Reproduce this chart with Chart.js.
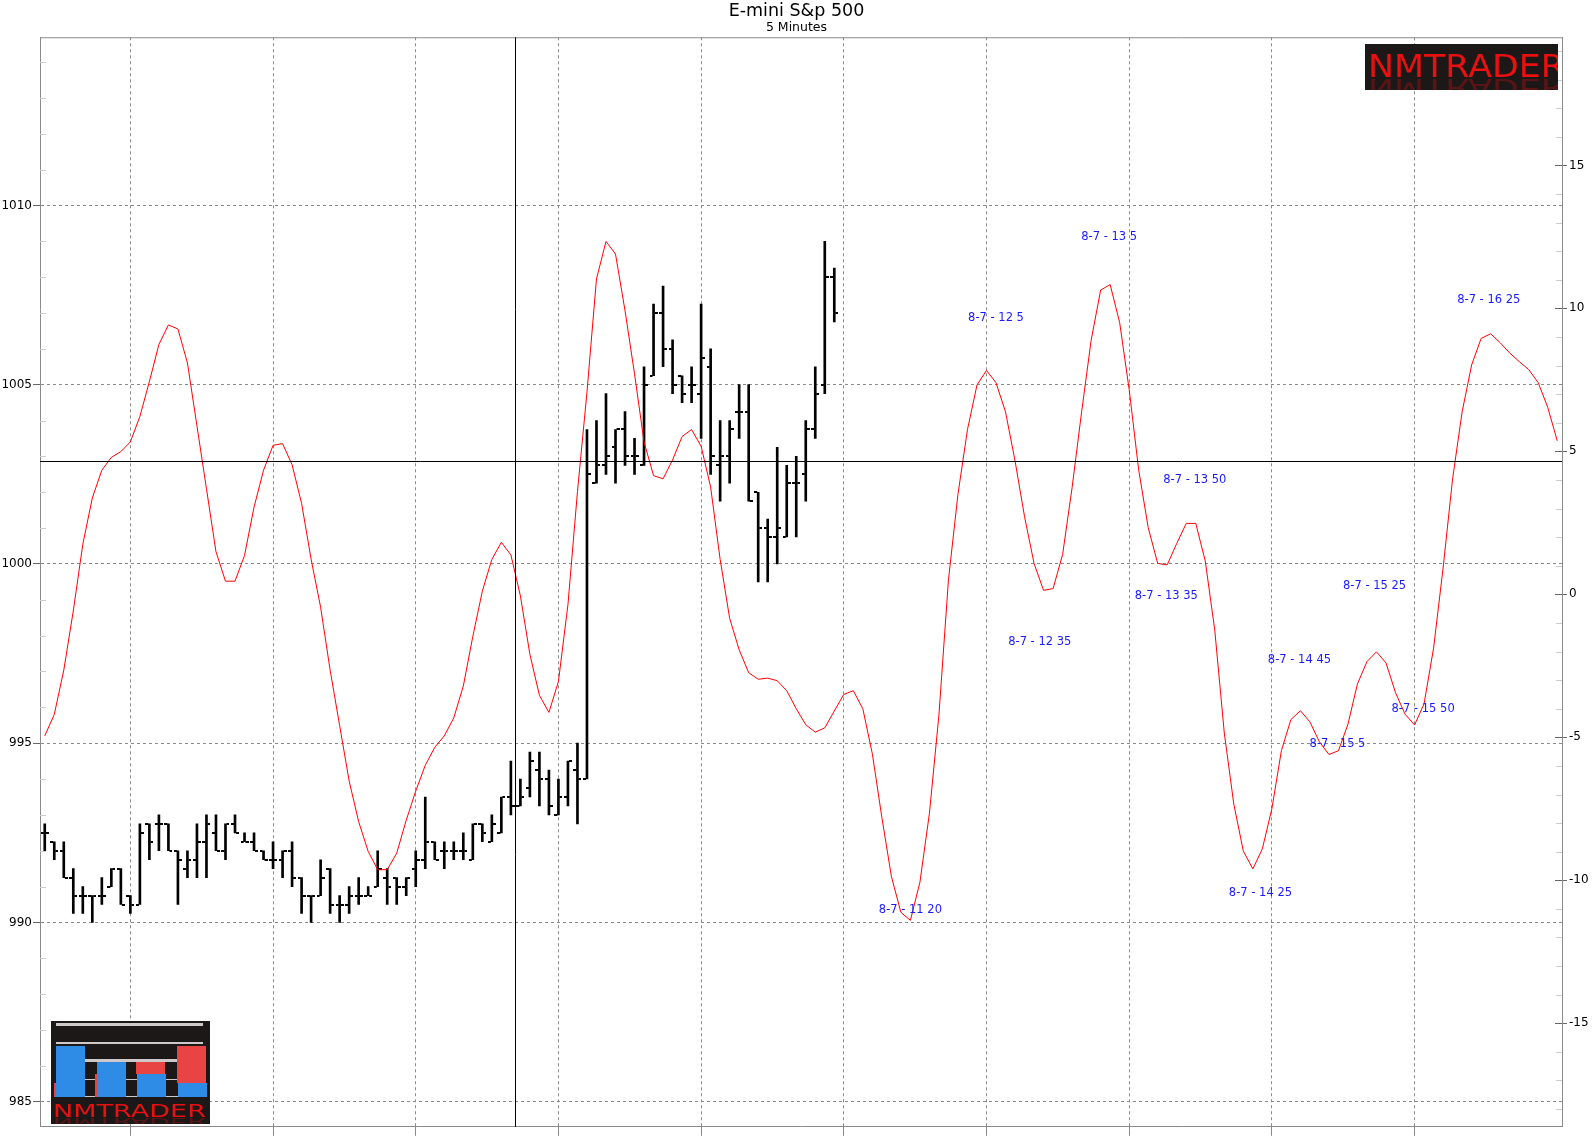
<!DOCTYPE html>
<html><head><meta charset="utf-8">
<script src="https://cdn.jsdelivr.net/npm/chart.js@4.4.1/dist/chart.umd.min.js"></script>
<style>html,body{margin:0;padding:0;background:#fff;}#wrap{width:1593px;height:1136px;position:relative;}</style>
</head><body><div id="wrap"><canvas id="c"></canvas></div>
<script>
// ---- data ----
const barOpen  = [992.5,992.25,992,991.25,990.75,990.75,990.75,991,991.5,990.75,990.5,992.75,992.75,992.75,992,991.5,991.75,992.25,992.5,992,992.75,992.25,992.25,992,991.75,991.75,992,991.25,990.75,990.75,991.5,990.5,990.5,990.75,990.75,991,991.25,991.25,991,991.5,991.75,992.25,992,992,992,991.75,992.75,992.25,992.5,993.5,993.25,993.75,994.25,994,993,993.5,994.25,994,1002.25,1002.75,1003.25,1003.75,1003,1002.75,1005.25,1007,1006,1005.25,1005,1004.75,1005.5,1002.75,1003,1004.25,1004.25,1002,1001,1000.75,1000.75,1002.25,1002.5,1003.75,1005,1008];
const barHigh  = [992.75,992.25,992.25,991.5,991,990.75,991.25,991.5,991.5,990.75,992.75,992.75,993,992.75,992,992,992.75,993,993,992.75,993,992.5,992.5,992,992.25,992,992.25,991.25,990.75,991.75,991.5,990.75,991,991.25,991,992,991.5,991.25,991.25,992,993.5,992.25,992.25,992.25,992.5,992.75,992.75,993,993.5,994.5,994,994.75,994.75,994.25,994,994.5,995,1003.75,1004,1004.75,1003.75,1004.25,1003.5,1005.5,1007.25,1007.75,1006.25,1005.25,1005.5,1007.25,1006,1004,1004,1005,1005,1002,1001.25,1003.25,1002.75,1003,1004,1005.5,1009,1008.25];
const barLow   = [992,991.75,991.25,990.25,990.25,990,990.5,991,990.5,990.25,990.5,991.75,992,992,990.5,991.25,991.25,991.25,992,991.75,992.5,992.25,992,991.75,991.5,991.25,991,990.25,990,990.75,990.25,990,990.25,990.5,990.75,991,990.5,990.5,990.75,991,991.5,991.75,991.5,991.75,991.75,991.75,992.25,992.25,992.5,993,993.25,993.5,993.25,993,993,993.25,992.75,994,1002.25,1002.5,1002.25,1002.75,1002.5,1002.75,1005.25,1005.5,1004.75,1004.5,1004.5,1003.5,1002.5,1001.75,1002.25,1003.5,1001.75,999.5,999.5,1000,1000.75,1000.75,1001.75,1003.5,1004.75,1006.75];
const barClose = [992.5,992,991.25,990.75,990.75,990.75,990.75,991.5,990.5,990.5,992.5,992.25,992.75,992,991.75,991.75,992.25,992.75,992,992.75,992.5,992.25,992,991.75,991.75,992,991.25,990.75,990.75,991.25,990.5,990.5,990.75,990.75,990.75,991.5,991,991,991.25,991.75,992.25,991.75,992,992,992,992.75,992.5,992.75,993.5,993.25,993.5,994.5,994,993.25,993.5,994.5,994,1002.5,1002.75,1003,1003.75,1003,1003,1005,1007,1006,1005,1004.75,1005,1005.75,1003,1003,1003.75,1004.25,1001.75,1001,1000.75,1001,1002.25,1002.25,1003.75,1004.75,1008,1007];
const oscillator = [-4.95,-4.2,-2.65,-0.58,1.75,3.37,4.34,4.79,4.99,5.33,6.22,7.44,8.74,9.42,9.28,8.09,5.89,3.69,1.49,0.46,0.46,1.36,3.05,4.34,5.21,5.27,4.53,3.18,1.23,-0.45,-2.65,-4.59,-6.53,-7.95,-8.99,-9.63,-9.63,-9.05,-7.9,-6.88,-5.98,-5.35,-4.95,-4.32,-3.21,-1.47,0.11,1.22,1.82,1.38,-0.05,-2.1,-3.53,-4.13,-3.05,-0.36,3.59,7.07,11.03,12.34,11.9,9.92,7.71,5.33,4.15,4.04,4.7,5.52,5.76,5.18,3.75,1.22,-0.84,-1.94,-2.74,-2.97,-2.93,-3.02,-3.37,-4,-4.56,-4.82,-4.67,-4.08,-3.5,-3.37,-4,-5.58,-7.8,-9.86,-11.12,-11.4,-10.07,-7.66,-4.22,0.5,3.5,5.76,7.32,7.83,7.4,6.38,4.67,2.72,1.08,0.14,0.2,1.39,3.73,6.38,8.88,10.64,10.83,9.5,7.16,4.35,2.33,1.08,1.03,1.78,2.48,2.48,1.16,-1.26,-4.85,-7.34,-8.98,-9.6,-8.9,-7.5,-5.47,-4.38,-4.07,-4.46,-5.16,-5.6,-5.47,-4.54,-3.13,-2.35,-2.01,-2.4,-3.44,-4.19,-4.57,-3.83,-1.88,0.92,4.04,6.38,8.02,8.95,9.11,8.8,8.44,8.14,7.86,7.4,6.54,5.37];
const priceTicks = [985,990,995,1000,1005,1010];
const oscTicks = [-15,-10,-5,0,5,10,15];
const timeGridIdx = [9,24,39,54,69,84,99,114,129,144];
const forecastText = ['8-7 - 11 20','8-7 - 12 5','8-7 - 12 35','8-7 - 13 5','8-7 - 13 35','8-7 - 13 50','8-7 - 14 25','8-7 - 14 45','8-7 - 15 5','8-7 - 15 25','8-7 - 15 50','8-7 - 16 25'];
const forecastIdx  = [91.0,100.0,104.6,111.9,117.9,120.9,127.8,131.9,135.9,139.8,144.9,151.8];
const forecastVal  = [-11.04,9.66,-1.65,12.49,-0.05,3.99,-10.43,-2.29,-5.25,0.30,-4.0,10.28];
const crossIdx = 49.4, crossPrice = 1002.87;
const titleText = 'E-mini S&p 500', subtitleText = '5 Minutes', logoText = 'NMTRADER';

// ---- helpers ----
function tickImg(left){const c=document.createElement('canvas');c.width=8;c.height=2;const g=c.getContext('2d');g.fillStyle='#000';g.fillRect(left?0:5,0,3,2);return c;}
const FONT='"DejaVu Sans", Verdana, sans-serif';
const GRID='#8a8a8a';

const decor = {
  id:'decor',
  afterDatasetsDraw(chart){
    const {ctx, chartArea:a, scales:{x,y,y2}} = chart;
    ctx.save();
    const ln=(x1,y1,x2,y2)=>{ctx.beginPath();ctx.moveTo(x1,y1);ctx.lineTo(x2,y2);ctx.stroke();};
    ctx.lineWidth=1;
    ctx.strokeStyle=GRID; ln(a.left,a.top+0.5,a.right,a.top+0.5);
    ctx.strokeStyle='#cccccc';
    for(let p=Math.ceil(y.min);p<=y.max;p++){ if(p%5===0) continue; const py=Math.round(y.getPixelForValue(p))+0.5; ln(a.left,py,a.left+6,py); }
    for(let v=Math.ceil(y2.min);v<=y2.max;v++){ if(v%5===0) continue; const py=Math.round(y2.getPixelForValue(v))+0.5; ln(a.right-6,py,a.right,py); }
    ctx.strokeStyle='#666';
    oscTicks.forEach(v=>{const py=Math.round(y2.getPixelForValue(v))+0.5; ln(a.right-7,py,a.right,py);});
    // crosshair
    ctx.strokeStyle='#000';
    const cx=Math.round(x.getPixelForValue(crossIdx))+0.5, cy=Math.round(y.getPixelForValue(crossPrice))+0.5;
    ln(cx,a.top,cx,a.bottom); ln(a.left,cy,a.right,cy);
    // forecast labels
    ctx.fillStyle='#1a1aff'; ctx.font='11.5px '+FONT; ctx.textAlign='center'; ctx.textBaseline='middle';
    forecastText.forEach((t,i)=>ctx.fillText(t, x.getPixelForValue(forecastIdx[i]), y2.getPixelForValue(forecastVal[i])));
    ctx.restore();
  },
  afterDraw(chart){
    const ctx=chart.ctx;
    // top-right logo
    ctx.save();
    ctx.fillStyle='#1c1818'; ctx.fillRect(1365,44,193,46);
    ctx.beginPath(); ctx.rect(1365,44,193,46); ctx.clip();
    ctx.font='32px '+FONT; ctx.textBaseline='alphabetic'; ctx.textAlign='left';
    let w=ctx.measureText(logoText).width, sx=197/w;
    ctx.save(); ctx.translate(1368,77); ctx.scale(sx,1); ctx.fillStyle='#e81010'; ctx.fillText(logoText,0,0); ctx.restore();
    ctx.save(); ctx.translate(1368,79); ctx.scale(sx,-0.8); ctx.globalAlpha=0.3; ctx.fillStyle='#e81010'; ctx.fillText(logoText,0,0); ctx.restore();
    ctx.restore();
    // bottom-left logo
    ctx.save();
    ctx.fillStyle='#1c1818'; ctx.fillRect(51,1021,159,103);
    ctx.fillStyle='#cfc8c8';
    ctx.fillRect(56,1023,147,3); ctx.fillRect(56,1042,147,2); ctx.fillRect(85,1059,92,3);
    ctx.fillRect(56,1079,150,1); ctx.fillRect(56,1096,150,1);
    ctx.fillStyle='#e84444';
    ctx.fillRect(54,1083,3,14); ctx.fillRect(95,1074,3,23); ctx.fillRect(136,1062,29,12); ctx.fillRect(177,1046,29,37);
    ctx.fillStyle='#2e8be6';
    ctx.fillRect(56,1046,29,51); ctx.fillRect(97,1062,29,35); ctx.fillRect(137,1074,29,23); ctx.fillRect(178,1083,29,14);
    ctx.beginPath(); ctx.rect(51,1021,159,103); ctx.clip();
    ctx.font='17px '+FONT; w=ctx.measureText(logoText).width; sx=153/w;
    ctx.save(); ctx.translate(53,1117); ctx.scale(sx,1); ctx.fillStyle='#e81010'; ctx.fillText(logoText,0,0); ctx.restore();
    ctx.save(); ctx.translate(53,1118); ctx.scale(sx,-0.6); ctx.globalAlpha=0.3; ctx.fillStyle='#e81010'; ctx.fillText(logoText,0,0); ctx.restore();
    ctx.restore();
  }
};

const hl = barHigh.map((h,i)=>({x:i,y:[barLow[i],h]}));
const op = barOpen.map((v,i)=>({x:i,y:v}));
const cl = barClose.map((v,i)=>({x:i,y:v}));
const osc = oscillator.map((v,i)=>({x:i,y:v}));

new Chart(document.getElementById('c'),{
  type:'bar',
  data:{datasets:[
    {type:'bar',data:hl,backgroundColor:'#000',borderWidth:0,barThickness:2,yAxisID:'y',order:3,grouped:false},
    {type:'line',data:op,showLine:false,pointStyle:tickImg(true),pointRadius:1,pointHoverRadius:1,yAxisID:'y',order:2},
    {type:'line',data:cl,showLine:false,pointStyle:tickImg(false),pointRadius:1,pointHoverRadius:1,yAxisID:'y',order:2},
    {type:'line',data:osc,borderColor:'#ff0000',borderWidth:1,pointRadius:0,tension:0,yAxisID:'y2',order:0}
  ]},
  options:{
    responsive:true, maintainAspectRatio:false, animation:false, devicePixelRatio:1,
    events:[],
    layout:{padding:0},
    plugins:{
      legend:{display:false}, tooltip:{enabled:false},
      title:{display:true,text:titleText,color:'#000',font:{family:FONT,size:17.5,weight:'normal',lineHeight:1.03},padding:{top:2.5,bottom:0}},
      subtitle:{display:true,text:subtitleText,color:'#000',font:{family:FONT,size:12.5,lineHeight:1.2},padding:{top:0,bottom:1.75}}
    },
    scales:{
      x:{type:'linear',min:-0.5,max:159.5,offset:false,
         afterBuildTicks(s){s.ticks=timeGridIdx.map(v=>({value:v}));},
         ticks:{display:false},
         grid:{offset:false,color:GRID,lineWidth:1,tickLength:9,tickColor:GRID,drawTicks:true},
         border:{display:true,color:GRID,width:1,dash:[3,3]}},
      y:{type:'linear',position:'left',min:984.30,max:1014.69,
         afterBuildTicks(s){s.ticks=priceTicks.map(v=>({value:v}));},
         afterFit(s){s.width=40;},
         ticks:{color:'#000',font:{family:FONT,size:12},padding:1,callback:v=>String(v)},
         grid:{color:GRID,lineWidth:1,tickLength:7,tickColor:'#666'},
         border:{display:true,color:GRID,width:1,dash:[3,3]}},
      y2:{type:'linear',position:'right',min:-18.62,max:19.48,
         afterBuildTicks(s){s.ticks=oscTicks.map(v=>({value:v}));},
         afterFit(s){s.width=31;},
         ticks:{color:'#000',font:{family:FONT,size:12},padding:2,callback:v=>String(v)},
         grid:{drawOnChartArea:false,tickLength:5,tickColor:'#666'},
         border:{display:true,color:GRID,width:1}}
    }
  },
  plugins:[decor]
});
</script></body></html>
